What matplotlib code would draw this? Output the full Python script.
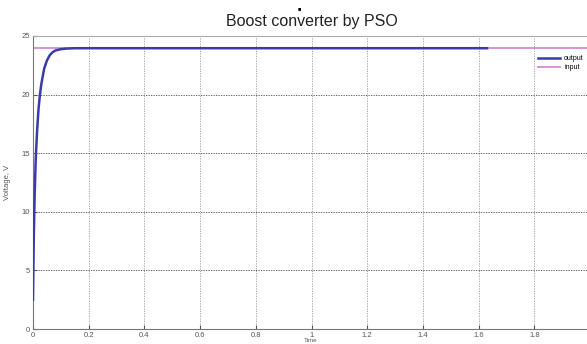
import matplotlib

matplotlib.use("agg")
import matplotlib.pyplot as plt

# step response of the boost converter
t_out = [0, 0.003, 0.006, 0.01, 0.015, 0.02, 0.025, 0.03, 0.04, 0.05,
         0.06, 0.07, 0.08, 0.1, 0.12, 0.15, 0.2, 1.63]
v_out = [2.5, 8.0, 11.5, 14.6, 17.0, 18.8, 20.0, 20.9, 22.2, 22.9,
         23.35, 23.6, 23.75, 23.87, 23.92, 23.95, 23.95, 23.95]
t_in = [0, 2]
v_in = [24, 24]

x_ticks = [0, 0.2, 0.4, 0.6, 0.8, 1, 1.2, 1.4, 1.6, 1.8]
x_labels = ["0", "0.2", "0.4", "0.6", "0.8", "1", "1.2", "1.4", "1.6", "1.8"]
y_ticks = [0, 5, 10, 15, 20, 25]

plt.rcParams["font.family"] = ["Liberation Sans", "DejaVu Sans"]

fig = plt.figure(figsize=(5.87, 3.44), dpi=100)
ax = fig.add_axes([0.0562, 0.0436, 0.949, 0.852])

ax.plot(t_in, v_in, color="#d68ad8", lw=1.3, label="input", zorder=2)
ax.plot(t_out, v_out, color="#3a3aa8", lw=1.8, label="output", zorder=3)

ax.set_xlim(0, 2)
ax.set_ylim(0, 25)
ax.set_xticks(x_ticks)
ax.set_xticklabels(x_labels)
ax.set_yticks(y_ticks)
ax.tick_params(direction="in", length=3, labelsize=5.5, colors="#555555",
               pad=2)
for side in ["left", "bottom"]:
    ax.spines[side].set_color("#777777")
ax.spines["top"].set_color("#aaaaaa")
ax.spines["right"].set_visible(False)

ax.grid(True, linestyle=(0, (1.5, 1.5)), color="#444444", lw=0.6)
ax.xaxis.grid(True, color="#999999")

ax.set_ylabel("Voltage, V", fontsize=5.5, color="#555555", labelpad=8)
fig.text(0.53, 0.002, "Time", fontsize=4.5, color="#555555",
         ha="center", va="bottom")

ax.set_title("Boost converter by PSO", fontsize=11.5, color="#222222", pad=7)
fig.text(0.51, 0.975, "\u25a0", fontsize=4, ha="center", va="center")

handles, labels = ax.get_legend_handles_labels()
ax.legend(handles[::-1], labels[::-1], loc="upper right",
          bbox_to_anchor=(1.0, 0.955), frameon=False, fontsize=5,
          handlelength=3.2, labelspacing=0.3, handletextpad=0.6)

fig.savefig("out.png", dpi=100)
